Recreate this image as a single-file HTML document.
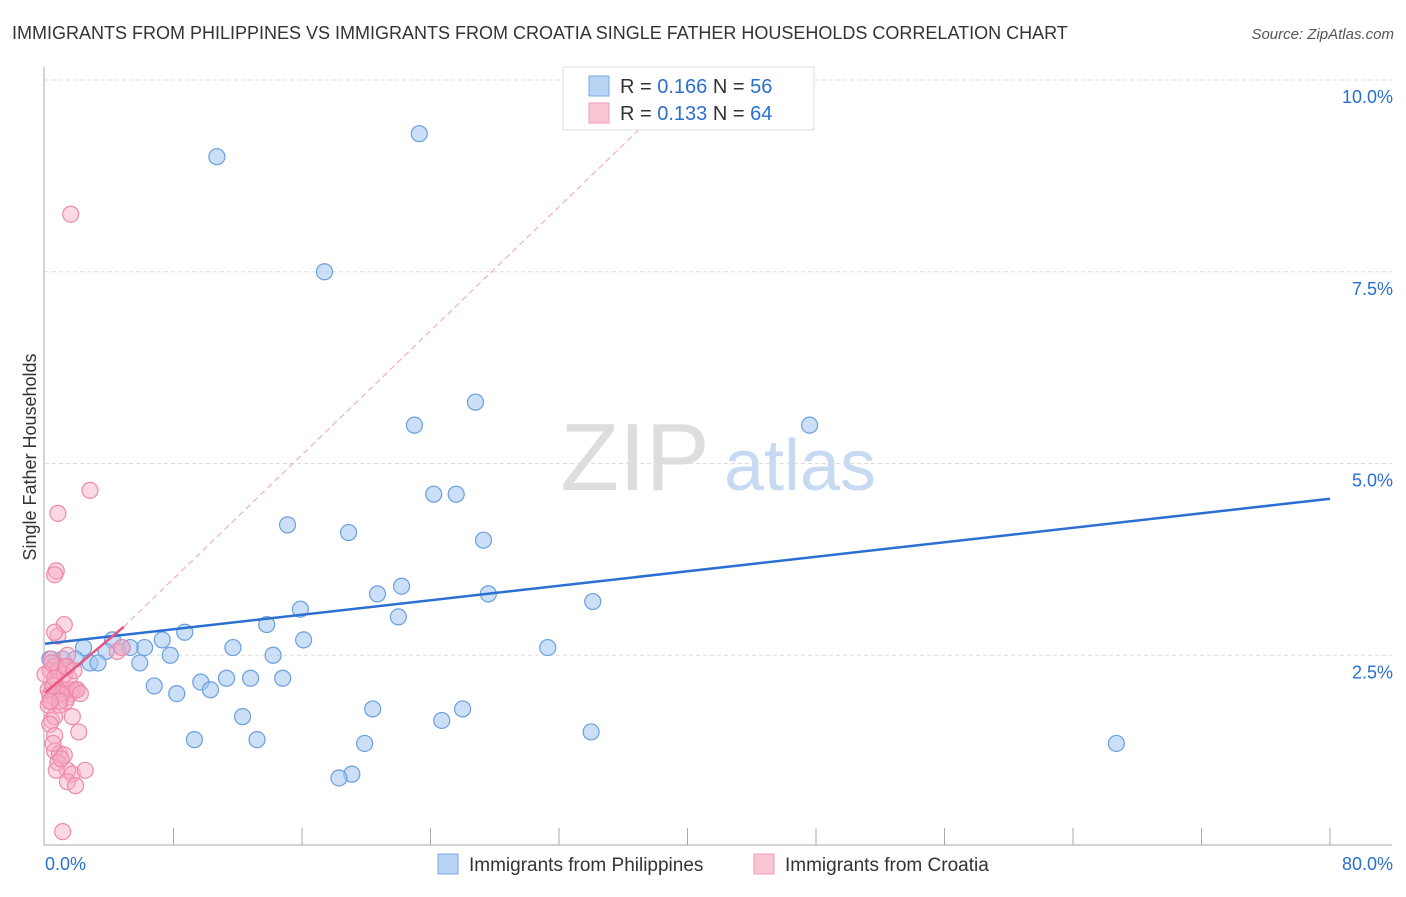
<!DOCTYPE html>
<html><head><meta charset="utf-8"><style>
body{margin:0;background:#fff;font-family:"Liberation Sans",sans-serif;}
svg text{font-family:"Liberation Sans",sans-serif;}
</style></head><body>
<svg id="c" width="1406" height="892" xmlns="http://www.w3.org/2000/svg">
<text x="12" y="39" font-size="18" fill="#333">IMMIGRANTS FROM PHILIPPINES VS IMMIGRANTS FROM CROATIA SINGLE FATHER HOUSEHOLDS CORRELATION CHART</text>
<text x="1394" y="39" font-size="15" fill="#555" font-style="italic" text-anchor="end">Source: ZipAtlas.com</text>
<text x="36" y="457" font-size="18" fill="#333" text-anchor="middle" transform="rotate(-90 36 457)">Single Father Households</text>
<g><text x="635" y="490" font-size="96" fill="#ddd" font-family="Liberation Serif" text-anchor="middle">ZIP</text><text x="800" y="490" font-size="72" fill="#c8daf2" text-anchor="middle">atlas</text></g>
<g id="grid"></g><g id="axes"></g><g id="marks"></g>
<g>
<rect x="563" y="67" width="251" height="63" fill="#fff" stroke="#ddd"/>
<rect x="589" y="76" width="20" height="20" fill="#b9d3f5" stroke="#7aaae8"/>
<rect x="589" y="103" width="20" height="20" fill="#f9c6d4" stroke="#f09ab3"/>
<text x="620" y="93" font-size="20" fill="#333">R = <tspan fill="#2a6fd1">0.166</tspan>   N = <tspan fill="#2a6fd1">56</tspan></text>
<text x="620" y="120" font-size="20" fill="#333">R = <tspan fill="#2a6fd1">0.133</tspan>   N = <tspan fill="#2a6fd1">64</tspan></text>
</g>
<g>
<rect x="438" y="854" width="20" height="20" fill="#b9d3f5" stroke="#7aaae8"/>
<text x="469" y="871" font-size="19" fill="#333">Immigrants from Philippines</text>
<rect x="754" y="854" width="20" height="20" fill="#f9c6d4" stroke="#f09ab3"/>
<text x="785" y="871" font-size="19" fill="#333">Immigrants from Croatia</text>
</g>
</svg>
<script>
const yTicks=[2.5,5.0,7.5,10.0];
const xTickLabels=["0.0%","80.0%"];
const blueX=[10.7,23.3,17.4,26.8,23.0,47.6,24.2,25.6,15.1,18.9,27.3,22.2,20.7,27.6,15.9,22.0,34.1,13.8,8.7,31.3,16.1,7.3,4.2,6.2,2.4,4.8,5.3,11.7,7.8,14.2,3.8,2.8,3.3,5.9,1.1,0.6,12.8,11.3,14.8,6.8,9.7,10.3,8.2,20.4,26.0,12.3,24.7,9.3,13.2,19.9,34.0,66.7,19.1,18.3,1.9,0.3];
const blueY=[9.0,9.3,7.5,5.8,5.5,5.5,4.6,4.6,4.2,4.1,4.0,3.4,3.3,3.3,3.1,3.0,3.2,2.9,2.8,2.6,2.7,2.7,2.7,2.6,2.6,2.6,2.6,2.6,2.5,2.5,2.55,2.4,2.4,2.4,2.45,2.4,2.2,2.2,2.2,2.1,2.15,2.05,2.0,1.8,1.8,1.7,1.65,1.4,1.4,1.35,1.5,1.35,0.95,0.9,2.45,2.45];
const pinkX=[1.6,2.8,0.8,0.7,0.6,1.2,0.8,0.6,1.4,0.4,0.6,0.3,0.9,1.4,0.6,0.2,0.8,1.2,1.6,1.9,0.3,0.6,1.1,1.4,0.4,0.6,1.7,2.1,0.3,0.6,0.6,0.9,1.2,0.8,1.4,1.7,1.4,2.5,1.9,1.1,4.5,4.8,0.4,0.2,0.9,0.8,0.0,1.7,1.3,0.5,0.7,1.0,1.5,2.0,1.2,0.5,0.9,1.3,0.4,2.2,1.8,0.6,1.0,0.3];
const pinkY=[8.25,4.65,4.35,3.6,3.55,2.9,2.75,2.8,2.5,2.45,2.35,2.3,2.3,2.35,2.15,2.05,2.05,2.05,2.0,2.05,1.98,1.95,1.98,1.95,1.65,1.7,1.7,1.5,1.6,1.45,1.25,1.22,1.2,1.1,1.0,0.95,0.85,1.0,0.8,0.2,2.55,2.6,1.9,1.85,1.85,2.3,2.25,2.05,1.9,1.35,1.0,2.0,2.2,2.05,2.25,2.1,1.9,2.35,2.4,2.0,2.3,2.2,1.15,1.9];
const blueTrend=[0,2.65,80,4.54];
const pinkTrend=[0,2.01,4.9,2.87,38.2,9.6];
const X0=45,X1=1330,Y0=847,YT=80;
const xs=v=>X0+(X1-X0)*v/80;
const ys=v=>Y0-(Y0-YT)*v/10;
const NS="http://www.w3.org/2000/svg";
function mk(p,t,a){const e=document.createElementNS(NS,t);for(const k in a)e.setAttribute(k,a[k]);document.getElementById(p).appendChild(e);return e;}
yTicks.forEach(t=>{
const g=mk('grid','line',{x1:45,x2:1392,y1:ys(t),y2:ys(t),stroke:'#ddd','stroke-dasharray':'4 3'});


const l=mk('grid','text',{x:1393,y:ys(t)+23,'font-size':18,fill:'#2a6fd1','text-anchor':'end'});
l.textContent=t.toFixed(1)+'%';


});
const ya=mk('axes','line',{x1:44,x2:44,y1:67,y2:845,stroke:'#aaa'});


const xa=mk('axes','line',{x1:44,x2:1392,y1:845,y2:845,stroke:'#aaa'});


for(let i=1;i<=10;i++){const t=mk('axes','line',{x1:xs(i*8),x2:xs(i*8),y1:828,y2:845,stroke:'#aaa'});

}
const xl0=mk('axes','text',{x:45,y:870,'font-size':18,fill:'#2a6fd1'});xl0.textContent=xTickLabels[0];


const xl1=mk('axes','text',{x:1393,y:870,'font-size':18,fill:'#2a6fd1','text-anchor':'end'});xl1.textContent=xTickLabels[1];


blueX.forEach((v,i)=>{const c=mk('marks','circle',{cx:xs(v),cy:ys(blueY[i]),r:8,fill:'rgba(160,196,240,0.55)',stroke:'#6a9fe0','stroke-width':1.2});

});
pinkX.forEach((v,i)=>{const c=mk('marks','circle',{cx:xs(v),cy:ys(pinkY[i]),r:8,fill:'rgba(246,170,195,0.45)',stroke:'#ee8aa8','stroke-width':1.2});

});
const bt=mk('marks','line',{x1:xs(blueTrend[0]),y1:ys(blueTrend[1]),x2:xs(blueTrend[2]),y2:ys(blueTrend[3]),stroke:'#2a6fd1','stroke-width':2.5});


const pd=mk('marks','line',{x1:xs(pinkTrend[2]),y1:ys(pinkTrend[3]),x2:xs(pinkTrend[4]),y2:ys(pinkTrend[5]),stroke:'#f0a0b8','stroke-width':1,'stroke-dasharray':'6 4'});


const pt=mk('marks','line',{x1:xs(pinkTrend[0]),y1:ys(pinkTrend[1]),x2:xs(pinkTrend[2]),y2:ys(pinkTrend[3]),stroke:'#e8557f','stroke-width':2.5});


</script>
</body></html>
